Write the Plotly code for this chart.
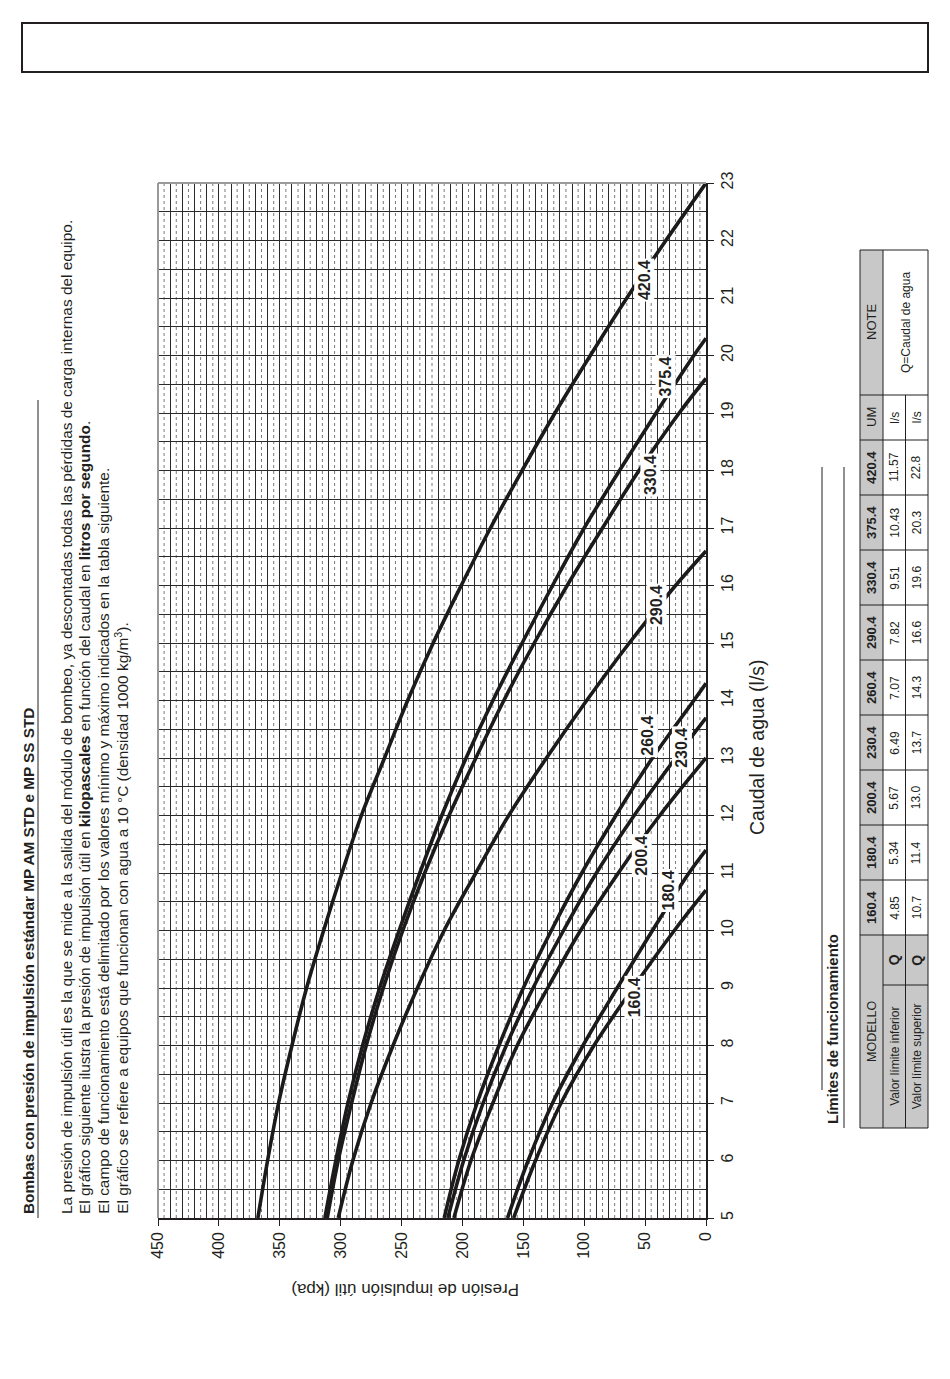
import plotly.graph_objects as go


# the page body has an 8 px margin, so the figure is drawn 8 px smaller
OFF = 8
W, H = 950 - OFF, 1379 - OFF
PLOT_L, PLOT_R, PLOT_T, PLOT_B = 158, 706, 183, 1218
FONT = "Liberation Sans, Arial, sans-serif"
INK = "#231f20"

MODELS = ["160.4", "180.4", "200.4", "230.4", "260.4", "290.4", "330.4", "375.4", "420.4"]

# caudal de agua (l/s) / presion de impulsion util (kPa)
flow_160 = [5, 6, 7, 8, 9, 10, 10.7]
kpa_160 = [158, 140, 119, 92, 60, 26, 0]
flow_180 = [5, 6, 7, 8, 9, 10, 11, 11.4]
kpa_180 = [163, 146, 126, 101, 73, 44, 14, 0]
flow_200 = [5, 6, 7, 8, 9, 10, 11, 12, 13]
kpa_200 = [207, 193, 175, 155, 130, 103, 72, 38, 0]
flow_230 = [5, 6, 7, 8, 9, 10, 11, 12, 13, 13.7]
kpa_230 = [212, 199, 183, 164, 142, 117, 90, 59, 25, 0]
flow_260 = [5, 6, 7, 8, 9, 10, 11, 12, 13, 14, 14.3]
kpa_260 = [215, 203, 188, 170, 150, 127, 102, 74, 44, 10, 0]
flow_290 = [5, 6, 7, 8, 9, 10, 11, 12, 13, 14, 15, 16, 16.6]
kpa_290 = [302, 290, 275, 257, 237, 215, 189, 162, 131, 98, 63, 25, 0]
flow_330 = [5, 6, 7, 8, 9, 10, 11, 12, 13, 14, 15, 16, 17, 18, 19, 19.6]
kpa_330 = [311, 302, 291, 279, 265, 249, 231, 211, 189, 166, 141, 114, 85, 55, 22, 0]
flow_375 = [5, 6, 7, 8, 9, 10, 11, 12, 13, 14, 15, 16, 17, 18, 19, 20, 20.3]
kpa_375 = [313, 304, 294, 282, 268, 252, 235, 217, 197, 175, 151, 126, 100, 71, 41, 10, 0]
flow_420 = [5, 6, 7, 8, 9, 10, 11, 12, 13, 14, 15, 16, 17, 18, 19, 20, 21, 22, 23]
kpa_420 = [368, 360, 351, 340, 328, 314, 299, 283, 264, 245, 224, 201, 177, 151, 124, 95, 65, 33, 0]

FLOWS = [flow_160, flow_180, flow_200, flow_230, flow_260, flow_290, flow_330, flow_375, flow_420]
KPAS = [kpa_160, kpa_180, kpa_200, kpa_230, kpa_260, kpa_290, kpa_330, kpa_375, kpa_420]

# donde va la etiqueta de cada curva (caudal, presion)
LABEL_FLOW = [8.84, 10.70, 11.31, 13.17, 13.38, 15.66, 17.92, 19.63, 21.31]
LABEL_KPA = [59, 31, 53, 20, 48, 41, 46, 33, 51]

# tabla de limites
LOWER_Q = ["4.85", "5.34", "5.67", "6.49", "7.07", "7.82", "9.51", "10.43", "11.57"]
UPPER_Q = ["10.7", "11.4", "13.0", "13.7", "14.3", "16.6", "19.6", "20.3", "22.8"]

PRESSURE_TICKS = list(range(0, 451, 50))
FLOW_TICKS = list(range(5, 24))

HEADING = "Bombas con presión de impulsión estándar MP AM STD e MP SS STD"
PARAGRAPH = [
    "La presión de impulsión útil es la que se mide a la salida del módulo de bombeo, "
    "ya descontadas todas las pérdidas de carga internas del equipo.",
    "El gráfico siguiente ilustra la presión de impulsión útil en <b>kilopascales</b> "
    "en función del caudal en <b>litros por segundo</b>.",
    "El campo de funcionamiento está delimitado por los valores mínimo y máximo "
    "indicados en la tabla siguiente.",
    "El gráfico se refiere a equipos que funcionan con agua a 10 °C "
    "(densidad 1000 kg/m<sup>3</sup>).",
]


def px(x):
    return (x - PLOT_L) / (PLOT_R - PLOT_L)


def py(y):
    return (PLOT_B - y) / (PLOT_B - PLOT_T)


def text(fig, x, y, s, size=13, angle=-90, xanchor="center", yanchor="middle", bold=False):
    fig.add_annotation(
        x=px(x), y=py(y), xref="paper", yref="paper", text=f"<b>{s}</b>" if bold else s,
        textangle=angle, showarrow=False, xanchor=xanchor, yanchor=yanchor,
        font=dict(family=FONT, size=size, color=INK),
    )


def line(fig, x0, y0, x1, y1, width=1.0, color=INK):
    fig.add_shape(
        type="line", xref="paper", yref="paper",
        x0=px(x0), y0=py(y0), x1=px(x1), y1=py(y1),
        line=dict(color=color, width=width),
    )


def rect(fig, x0, y0, x1, y1, fill="rgba(0,0,0,0)", width=0, color=INK):
    fig.add_shape(
        type="rect", xref="paper", yref="paper",
        x0=px(x0), y0=py(y0), x1=px(x1), y1=py(y1),
        fillcolor=fill, line=dict(color=color, width=width),
        layer="below" if width == 0 else "above",
    )


fig = go.Figure()

for model, q, p in zip(MODELS, FLOWS, KPAS):
    fig.add_trace(go.Scatter(
        x=p, y=q, mode="lines", name=model, showlegend=False, hoverinfo="skip",
        line=dict(color="#1c1a1a", width=3.6, shape="spline", smoothing=1.0),
    ))

for model, lq, lp in zip(MODELS, LABEL_FLOW, LABEL_KPA):
    fig.add_annotation(
        x=lp, y=lq, xref="x", yref="y", text=f"<b>{model}</b>", textangle=-90,
        showarrow=False, bgcolor="white", borderpad=1,
        font=dict(family=FONT, size=16, color=INK),
    )

# lineas punteadas cada 5 kPa
for p in range(5, 450, 10):
    fig.add_shape(
        type="line", xref="x", yref="paper", x0=p, x1=p, y0=0, y1=1,
        line=dict(color="#7a7a7a", width=1, dash="dot"), layer="below",
    )

# bordes grises izquierdo y superior
line(fig, PLOT_L, PLOT_T, PLOT_L, PLOT_B, width=2, color="#9a9a9a")
line(fig, PLOT_L, PLOT_T, PLOT_R, PLOT_T, width=2, color="#9a9a9a")

# recuadro superior
rect(fig, 22, 23, 928, 72, width=2)

# texto de la izquierda
text(fig, 28, 1216, HEADING, size=15.3, yanchor="bottom", bold=True)
line(fig, 38, 400, 38, 1218, width=1)
for i, s in enumerate(PARAGRAPH):
    text(fig, 66 + i * 18.4, 1216, s, size=15.4, yanchor="bottom")

# titulos de ejes
text(fig, 405, 1290, "Presión de impulsión útil (kpa)", size=17, angle=180)
text(fig, 757, 747, "Caudal de agua (l/s)", size=19.5)

# tabla de limites
text(fig, 832, 1126, "Límites de funcionamiento", size=15, yanchor="bottom", bold=True)
line(fig, 822, 467, 822, 1090, width=1)
line(fig, 844, 467, 844, 1128, width=1)

GRAY = "#c8c8c8"
T_X = [860, 883, 905.5, 928]
T_BOTTOM, T_Q, T_MODEL0, COL_W = 1128, 985, 935, 55
T_UM = T_MODEL0 - 9 * COL_W
T_NOTE, T_TOP = 395, 250

rect(fig, T_X[0], T_TOP, T_X[1], T_BOTTOM, fill=GRAY)
rect(fig, T_X[1], T_MODEL0, T_X[3], T_BOTTOM, fill=GRAY)
rect(fig, T_X[0], T_TOP, T_X[3], T_BOTTOM, width=1)
line(fig, T_X[1], T_TOP, T_X[1], T_BOTTOM)
line(fig, T_X[2], T_NOTE, T_X[2], T_BOTTOM)
line(fig, T_X[1], T_Q, T_X[3], T_Q)
col_edges = [T_MODEL0 - i * COL_W for i in range(10)] + [T_NOTE]
for e in col_edges:
    line(fig, T_X[0], e, T_X[3], e)

cx = [(T_X[0] + T_X[1]) / 2, (T_X[1] + T_X[2]) / 2, (T_X[2] + T_X[3]) / 2]
text(fig, cx[0], (T_MODEL0 + T_BOTTOM) / 2, "MODELLO", size=12.5)
text(fig, cx[1], (T_Q + T_BOTTOM) / 2, "Valor límite inferior", size=12)
text(fig, cx[2], (T_Q + T_BOTTOM) / 2, "Valor límite superior", size=12)
text(fig, cx[1], (T_Q + T_MODEL0) / 2, "Q", size=14, bold=True)
text(fig, cx[2], (T_Q + T_MODEL0) / 2, "Q", size=14, bold=True)
for i, (m, lo, hi) in enumerate(zip(MODELS, LOWER_Q, UPPER_Q)):
    cy = T_MODEL0 - (i + 0.5) * COL_W
    text(fig, cx[0], cy, m, size=13, bold=True)
    text(fig, cx[1], cy, lo, size=12)
    text(fig, cx[2], cy, hi, size=12)
um_y = (T_UM + T_NOTE) / 2
text(fig, cx[0], um_y, "UM", size=13)
text(fig, cx[1], um_y, "l/s", size=12)
text(fig, cx[2], um_y, "l/s", size=12)
note_y = (T_NOTE + T_TOP) / 2
text(fig, cx[0], note_y, "NOTE", size=13)
text(fig, T_X[2], note_y, "Q=Caudal de agua", size=12)

fig.update_layout(
    width=W, height=H,
    margin=dict(l=PLOT_L - OFF, r=W + OFF - PLOT_R, t=PLOT_T - OFF, b=H + OFF - PLOT_B, pad=0),
    plot_bgcolor="white", paper_bgcolor="white",
    font=dict(family=FONT, color=INK),
    xaxis=dict(
        range=[450, 0], tickvals=PRESSURE_TICKS, tickangle=-90,
        ticks="outside", ticklen=6, tickcolor=INK,
        showline=True, linecolor=INK, linewidth=1.5,
        showgrid=True, gridcolor="#2a2a2a", gridwidth=1,
        minor=dict(dtick=10, tick0=0, showgrid=True, gridcolor="#2a2a2a", gridwidth=1),
        zeroline=False, tickfont=dict(family=FONT, size=16, color=INK),
    ),
    yaxis=dict(
        range=[5, 23], tickvals=FLOW_TICKS, tickangle=-90, side="right",
        ticks="outside", ticklen=6, tickcolor=INK,
        showline=True, linecolor=INK, linewidth=1.5,
        showgrid=True, gridcolor="#2a2a2a", gridwidth=1,
        minor=dict(dtick=0.5, tick0=5, showgrid=True, gridcolor="#2a2a2a", gridwidth=1),
        zeroline=False, tickfont=dict(family=FONT, size=16, color=INK),
    ),
)

fig.write_html("out.html")
